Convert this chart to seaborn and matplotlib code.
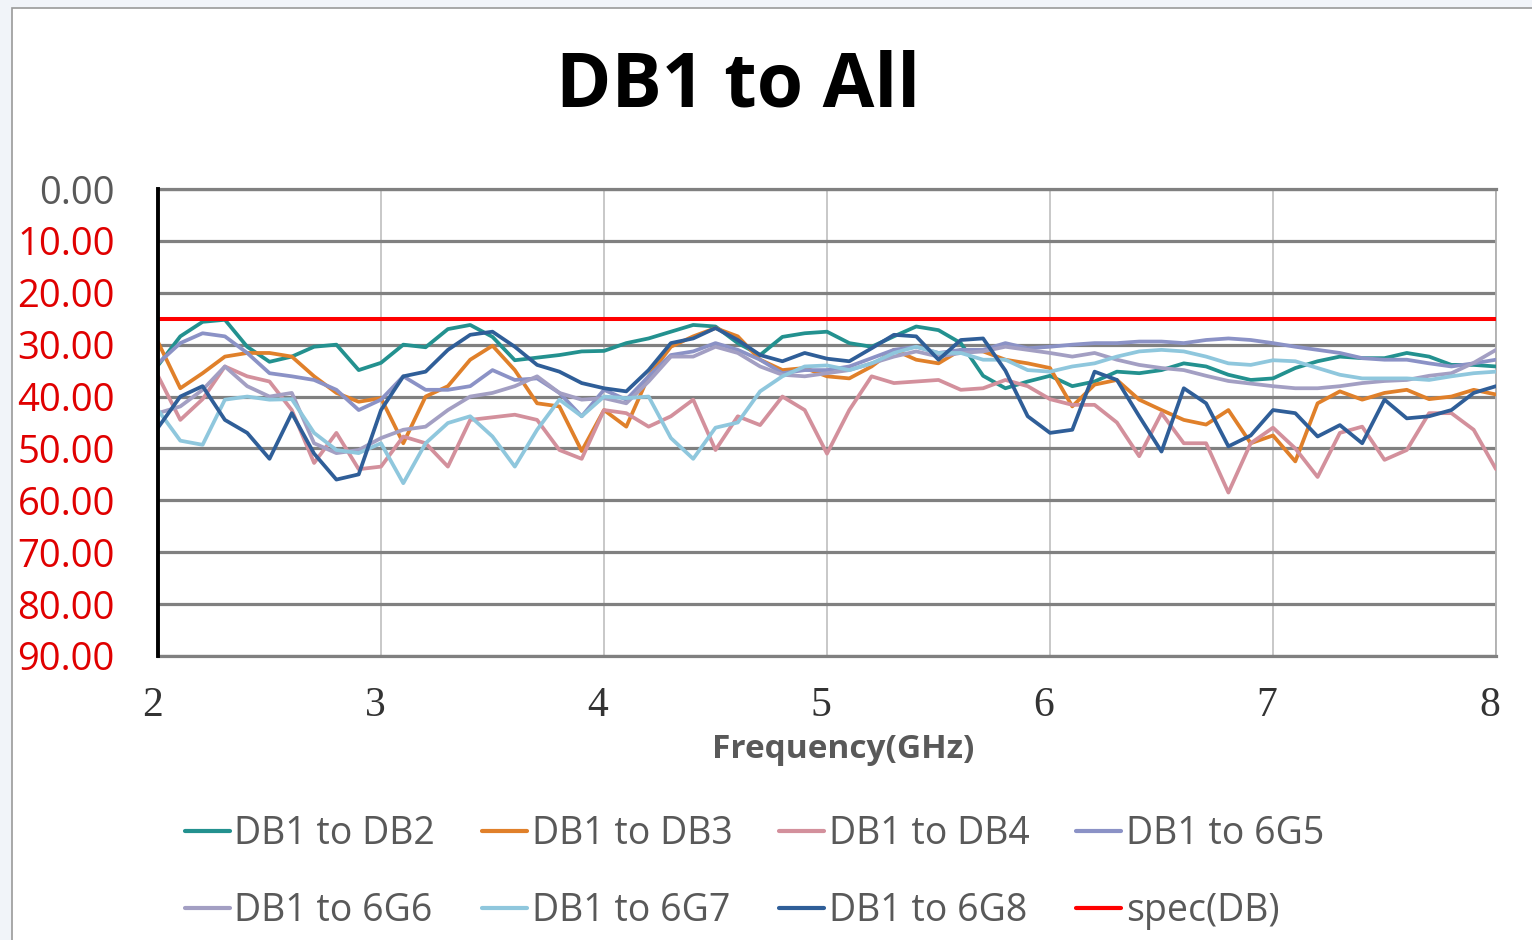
import numpy as np
import pandas as pd
import matplotlib
matplotlib.use("Agg")
import matplotlib.pyplot as plt
import matplotlib.transforms as mtrans
from matplotlib.lines import Line2D
from matplotlib.patches import Rectangle
import seaborn as sns

# ---------------- data ----------------
freq_ghz = np.round(np.arange(2.0, 8.01, 0.1), 1)

db1_to_db2 = [34, 28.4, 25.6, 25.2, 30.4, 33.3, 32.3, 30.4, 30, 34.9,
              33.5, 30, 30.5, 27, 26.2, 28.5, 33, 32.5, 32, 31.3,
              31.2, 29.7, 28.8, 27.5, 26.2, 26.5, 29.7, 32, 28.5, 27.8,
              27.5, 29.7, 30.4, 28.4, 26.5, 27.2, 29.7, 36, 38.4, 37.1,
              36, 38, 37.1, 35.2, 35.5, 34.9, 33.6, 34.2, 35.8, 36.8,
              36.5, 34.5, 33.2, 32.3, 32.6, 32.6, 31.6, 32.3, 33.9, 33.9, 34.2]

db1_to_db3 = [29.5, 38.4, 35.5, 32.3, 31.6, 31.6, 32.3, 36.1, 39.3, 41,
              40.3, 49, 40, 38, 32.9, 30.2, 34.9, 41.3, 41.9, 50.5,
              42.6, 45.8, 36.1, 30.4, 28.4, 26.8, 28.4, 32.9, 34.9, 34.5,
              36.1, 36.5, 34.2, 31, 32.9, 33.6, 31, 31.3, 32.9, 33.6,
              34.5, 41.9, 37.7, 36.8, 40.6, 42.6, 44.5, 45.4, 42.6, 49,
              47.5, 52.5, 41.3, 39, 40.6, 39.3, 38.7, 40.5, 40, 38.7, 39.6]

db1_to_db4 = [36, 44.5, 40.5, 34.2, 36.1, 37.1, 42.6, 52.8, 47, 54,
              53.5, 47.7, 49, 53.5, 44.5, 44, 43.5, 44.5, 50.3, 52,
              42.6, 43.2, 45.8, 43.8, 40.6, 50.3, 43.8, 45.5, 40, 42.6,
              51, 42.6, 36.1, 37.4, 37.1, 36.8, 38.7, 38.4, 36.8, 38,
              40.5, 41.6, 41.6, 45, 51.5, 43.2, 49, 49, 58.5, 49,
              46, 50, 55.5, 47, 45.8, 52.2, 50.3, 43.2, 43.2, 46.4, 54]

db1_to_6g5 = [33.6, 29.7, 27.8, 28.4, 31.6, 35.5, 36.1, 36.8, 38.7, 42.6,
              40.6, 36.1, 38.7, 38.7, 38, 34.9, 36.8, 36.5, 39.3, 43.8,
              38.7, 40.6, 36.1, 32, 31.3, 29.7, 31, 32.9, 35.5, 34.9,
              34.9, 34.2, 32.6, 31, 30.4, 31.6, 31, 31, 29.7, 30.7,
              30.4, 30, 29.7, 29.7, 29.4, 29.4, 29.7, 29.1, 28.8, 29.1,
              29.7, 30.4, 31, 31.6, 32.6, 32.9, 32.9, 33.6, 34.2, 33.6, 32.9]

db1_to_6g6 = [43.2, 41.9, 38.7, 34.2, 38, 40, 39.3, 49, 50.9, 50.3,
              48, 46.4, 45.8, 42.6, 40, 39.3, 38, 36.1, 39.3, 40.6,
              40.3, 41.3, 37.1, 32.3, 32.3, 30.4, 31.6, 34.2, 35.8, 36.1,
              35.5, 34.9, 33.6, 32.3, 31.3, 32.3, 31.6, 31.3, 30.4, 31,
              31.6, 32.3, 31.6, 32.9, 33.9, 34.5, 34.9, 36, 37, 37.5,
              38, 38.4, 38.4, 38, 37.4, 37, 36.8, 36, 35.5, 33.5, 31]

db1_to_6g7 = [42.6, 48.5, 49.3, 40.6, 40, 40.6, 40.5, 47, 50.3, 50.9,
              49, 56.7, 49, 45.1, 43.8, 47.7, 53.5, 46.4, 40.6, 43.8,
              40, 40.3, 40, 48, 52, 46, 45, 39, 36.1, 34.2,
              34, 34.9, 33.6, 31.6, 30.4, 31.6, 31.6, 32.9, 32.9, 34.9,
              35.2, 34.2, 33.6, 32.3, 31.3, 31, 31.3, 32.3, 33.6, 33.9,
              33, 33.2, 34.5, 35.8, 36.5, 36.5, 36.5, 36.8, 36.1, 35.5, 35.2]

db1_to_6g8 = [46, 40, 38, 44.5, 47, 52, 43.2, 51, 56, 55,
              42.6, 36.1, 35.2, 31, 28.1, 27.5, 30.4, 33.9, 35.2, 37.4,
              38.4, 39, 34.9, 29.7, 28.8, 26.8, 29.1, 32, 33.2, 31.6,
              32.7, 33.2, 30.7, 28.1, 28.4, 32.9, 29.1, 28.8, 35, 43.8,
              47, 46.4, 35.2, 36.8, 43.8, 50.6, 38.4, 41.3, 49.6, 47.5,
              42.6, 43.2, 47.7, 45.5, 49, 40.6, 44.2, 43.8, 42.6, 39.3, 38]

spec_freq = [2.0, 8.0]
spec_db = [25.0, 25.0]

series_names = ["DB1 to DB2", "DB1 to DB3", "DB1 to DB4", "DB1 to 6G5",
                "DB1 to 6G6", "DB1 to 6G7", "DB1 to 6G8"]
series_values = [db1_to_db2, db1_to_db3, db1_to_db4, db1_to_6g5,
                 db1_to_6g6, db1_to_6g7, db1_to_6g8]
spec_name = "spec(DB)"

y_ticks = [0, 10, 20, 30, 40, 50, 60, 70, 80, 90]
x_ticks = [2, 3, 4, 5, 6, 7, 8]

# ---------------- style ----------------
colors = ["#23918F", "#E0802A", "#D3909C", "#8B92C6",
          "#A39FC3", "#8FC7DD", "#2F5E98"]
spec_color = "#FF0000"

sns.set_style("white")
plt.rcParams["font.family"] = ["Open Sans", "DejaVu Sans"]

W, H = 1532, 940
fig = plt.figure(figsize=(W / 100, H / 100), dpi=100)
fig.patch.set_facecolor("#F1F4F9")
fig.patches.append(Rectangle((12 / W, -0.02), 1.0, 1 - 8 / H + 0.02,
                             transform=fig.transFigure, facecolor="white",
                             edgecolor="#9A9A9A", lw=1.2, zorder=-5))

ax = fig.add_axes([158 / W, 1 - 656 / H, (1496 - 158) / W, (656 - 189) / H])
ax.set_zorder(2)
ax.set_facecolor("white")

long_df = pd.concat(
    [pd.DataFrame({"freq": freq_ghz, "db": vals, "series": name})
     for name, vals in zip(series_names, series_values)],
    ignore_index=True)

sns.lineplot(data=long_df, x="freq", y="db", hue="series",
             hue_order=series_names, palette=colors, linewidth=2.7,
             estimator=None, sort=False, legend=False, ax=ax, zorder=3)
sns.lineplot(x=spec_freq, y=spec_db, color=spec_color, linewidth=2.9,
             estimator=None, legend=False, ax=ax, zorder=4)
for ln in ax.lines:
    ln.set_solid_joinstyle("round")
    ln.set_solid_capstyle("round")

ax.set_xlim(2, 8)
ax.set_ylim(90, 0)
ax.set_xticks(x_ticks)
ax.set_xticklabels([str(v) for v in x_ticks], family="Liberation Serif",
                   fontsize=30, color="#333333")
ax.set_yticks(y_ticks)
ax.set_yticklabels([f"{v:.2f}" for v in y_ticks], fontsize=27.5)
for i, lab in enumerate(ax.get_yticklabels()):
    lab.set_color("#595959" if i == 0 else "#E00000")
ax.tick_params(axis="both", length=0)
ax.tick_params(axis="y", pad=31)
ax.tick_params(axis="x", pad=22)
offset = mtrans.ScaledTranslation(-6 / 100, 0, fig.dpi_scale_trans)
for lab in ax.get_xticklabels():
    lab.set_transform(lab.get_transform() + offset)

ax.yaxis.grid(True, color="#808080", lw=2.3, zorder=1)
ax.xaxis.grid(True, color="#C4C4C4", lw=1.3, zorder=1)
ax.set_axisbelow(True)
ax.set_xlabel("")
ax.set_ylabel("")
for side in ["top", "bottom"]:
    ax.spines[side].set_color("#808080")
    ax.spines[side].set_linewidth(2.3)
ax.spines["right"].set_color("#B0B0B0")
ax.spines["right"].set_linewidth(1.3)
ax.spines["left"].set_color("black")
ax.spines["left"].set_linewidth(2.8)
ax.spines["left"].set_zorder(5)

fig.text(738 / W, 1 - 87 / H, "DB1 to All", ha="center", va="center",
         fontsize=54, fontweight="bold", color="black")
fig.text(843 / W, 1 - 750 / H, "Frequency(GHz)", ha="center", va="center",
         fontsize=24, fontweight="bold", color="#595959")

# legend (Excel row-major order -> matplotlib column-major)
handles = [Line2D([], [], color=c, lw=3) for c in colors] + \
          [Line2D([], [], color=spec_color, lw=3)]
labels = series_names + [spec_name]
order = [0, 4, 1, 5, 2, 6, 3, 7]
leg = fig.legend([handles[i] for i in order], [labels[i] for i in order],
                 ncol=4, loc="upper left",
                 bbox_to_anchor=(185 / W, 1 - 815 / H),
                 frameon=False, fontsize=27, handlelength=1.2,
                 handletextpad=0.12, columnspacing=1.25, labelspacing=1.05,
                 borderpad=0, borderaxespad=0)
for t in leg.get_texts():
    t.set_color("#595959")

fig.savefig("out.png", dpi=100, facecolor=fig.get_facecolor())
